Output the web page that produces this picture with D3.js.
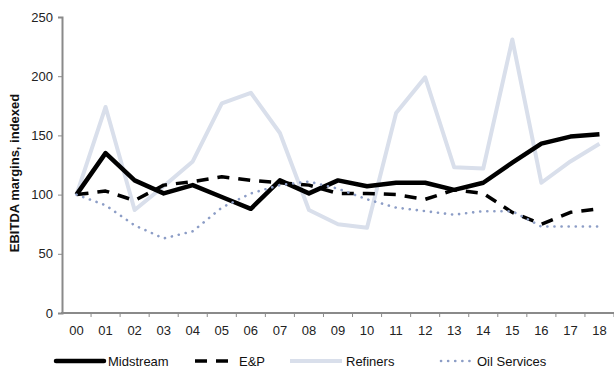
<!DOCTYPE html>
<html>
<head>
<meta charset="utf-8">
<script src="https://cdn.jsdelivr.net/npm/d3@7/dist/d3.min.js"></script>
<style>
  html, body { margin: 0; padding: 0; background: #fff; }
  svg { display: block; font-family: "Liberation Sans", Arial, sans-serif; }
</style>
</head>
<body>
<svg id="chart" width="614" height="372"></svg>
<script>
// Years (two-digit labels) and indexed EBITDA margins per sector (2000 = 100)
const years = ["00","01","02","03","04","05","06","07","08","09","10","11","12","13","14","15","16","17","18"];
const midstream   = [100,135,112,101,108,98,88,112,101,112,107,110,110,104,110,127,143,149,151];
const eandp       = [100,103,95,108,111,115,112,110,108,101,101,100,96,104,101,85,75,85,88];
const refiners    = [100,174,87,107,128,177,186,152,87,75,72,169,199,123,122,231,110,128,143];
const oilServices = [100,91,74,63,69,89,101,108,111,105,96,89,86,83,86,86,73,73,73];
const yTicks = [0, 50, 100, 150, 200, 250];

const series = [
  { name: "Refiners",     values: refiners,    color: "#d9dfeb", width: 4,   dash: null,    cap: "butt" },
  { name: "Midstream",    values: midstream,   color: "#000000", width: 4.5, dash: null,    cap: "butt" },
  { name: "E&P",          values: eandp,       color: "#000000", width: 3.5, dash: "12,9",  cap: "butt" },
  { name: "Oil Services", values: oilServices, color: "#8c9dc6", width: 2.6, dash: "0.1,7", cap: "round" }
];
const legendOrder = ["Midstream", "E&P", "Refiners", "Oil Services"];

const svg = d3.select("#chart");
const margin = { left: 62, right: 0, top: 17, bottom: 59 };
const W = 614, H = 372;
const fontSize = "13px";

const x = d3.scaleBand().domain(years).range([margin.left, W - margin.right]);
const y = d3.scaleLinear().domain([0, 250]).range([H - margin.bottom, margin.top]);
const axisColor = "#8a8a8a";

// Y axis
const yAxis = svg.append("g")
  .attr("transform", `translate(${margin.left},0)`)
  .call(d3.axisLeft(y).tickValues(yTicks).tickSize(4).tickPadding(5));
yAxis.select(".domain").attr("stroke", axisColor).attr("stroke-width", 2);
yAxis.selectAll(".tick line").attr("stroke", axisColor).attr("stroke-width", 1);
yAxis.selectAll(".tick text").attr("fill", "#222").style("font-size", fontSize);

// X axis: ticks sit on category boundaries
const xAxisG = svg.append("g").attr("transform", `translate(0,${y(0)})`);
xAxisG.append("line")
  .attr("x1", margin.left - 1).attr("x2", W)
  .attr("stroke", axisColor).attr("stroke-width", 2);
xAxisG.selectAll("line.tk")
  .data(years)
  .join("line")
  .attr("class", "tk")
  .attr("x1", d => x(d) + x.bandwidth())
  .attr("x2", d => x(d) + x.bandwidth())
  .attr("y1", 0).attr("y2", 4)
  .attr("stroke", axisColor).attr("stroke-width", 1);
xAxisG.selectAll("text")
  .data(years)
  .join("text")
  .attr("x", d => x(d) + x.bandwidth() / 2)
  .attr("y", 22)
  .attr("text-anchor", "middle")
  .attr("fill", "#222")
  .style("font-size", fontSize)
  .text(d => d);

// Y axis title
svg.append("text")
  .attr("transform", `translate(19,${(y(0) + y(250)) / 2 + 8}) rotate(-90)`)
  .attr("text-anchor", "middle")
  .style("font-size", fontSize)
  .style("font-weight", "bold")
  .attr("fill", "#111")
  .text("EBITDA margins, indexed");

// Lines
const line = d3.line()
  .x((d, i) => x(years[i]) + x.bandwidth() / 2)
  .y(d => y(d));

svg.append("g").selectAll("path")
  .data(series)
  .join("path")
  .attr("d", d => line(d.values))
  .attr("fill", "none")
  .attr("stroke", d => d.color)
  .attr("stroke-width", d => d.width)
  .attr("stroke-dasharray", d => d.dash)
  .attr("stroke-linecap", d => d.cap)
  .attr("stroke-linejoin", "round");

// Legend
const legendX = { "Midstream": 56, "E&P": 195, "Refiners": 290, "Oil Services": 441 };
const legendW = { "Midstream": 48, "E&P": 40, "Refiners": 52, "Oil Services": 32 };
const legendY = 366;
const lg = svg.append("g");
legendOrder.forEach(name => {
  const s = series.find(d => d.name === name);
  const x0 = legendX[name], w = legendW[name];
  lg.append("line")
    .attr("x1", x0).attr("x2", x0 + w)
    .attr("y1", legendY - 5).attr("y2", legendY - 5)
    .attr("stroke", s.color)
    .attr("stroke-width", s.width)
    .attr("stroke-dasharray", s.dash)
    .attr("stroke-linecap", s.name === "Midstream" ? "round" : s.cap);
  lg.append("text")
    .attr("x", x0 + w + 4)
    .attr("y", legendY)
    .attr("fill", "#111")
    .style("font-size", fontSize)
    .text(name);
});
</script>
</body>
</html>
